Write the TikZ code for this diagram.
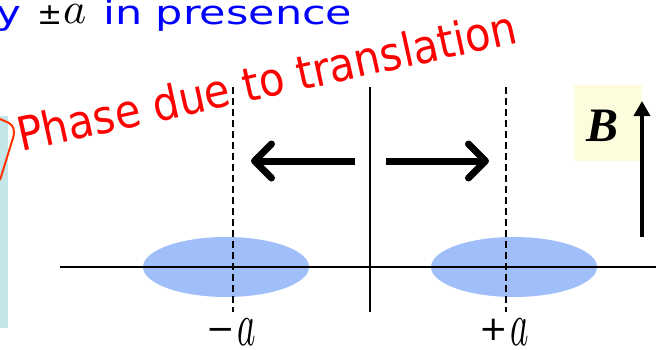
\documentclass[tikz,border=0pt]{standalone}
\usepackage{fontspec}
\setmainfont{DejaVu Sans}
\newfontfamily\condfont{DejaVu Sans Condensed}
\newfontfamily\timesfont{Liberation Serif}
\usetikzlibrary{arrows.meta,shapes.geometric}

\definecolor{cloudblue}{RGB}{160,191,250}
\definecolor{stripcyan}{RGB}{197,230,232}
\definecolor{calloutred}{RGB}{255,51,0}
\definecolor{fieldyellow}{RGB}{253,253,222}

\newcommand{\bigvar}[2]{\scalebox{#1}[#2]{\normalsize$a$}}

\begin{document}
\begin{tikzpicture}[
        x=1pt, y=-1pt,
        cloud/.style={
            ellipse,
            fill=cloudblue,
            minimum width=166pt,
            minimum height=60pt,
            inner sep=0pt
        },
        axisline/.style={line width=2pt},
        guide/.style={line width=1.6pt, dash pattern=on 7pt off 4pt},
        shiftarrow/.style={line width=7pt, -{Straight Barb[length=17pt, width=34pt, round]}},
        fieldarrow/.style={line width=4pt, -{Triangle[length=15pt, width=16pt]}},
        toptext/.style={inner sep=0pt, anchor=base west, font=\fontsize{33}{36}\selectfont},
        lab/.style={inner sep=0pt, anchor=base west, font=\fontsize{34}{34}\selectfont}
    ]
    \useasboundingbox (0,0) rectangle (663,350);
    \clip (0,0) rectangle (663,350);

    % cut-off pieces on the left
    \fill[stripcyan] (0,116) rectangle (8,328);
    \draw[calloutred, line width=2pt, line join=round] (0,119) -- (9,123) .. controls (14,126) and (15,131) .. (13,138) -- (0,180);

    % heading line, cut at the top
    \node[toptext, text=blue] (headY) at (-4,25) {\scalebox{1.27}[1]{y}};
    \node[toptext, font=\fontsize{30}{32}\selectfont] (headPM) at (37,25) {±};
    \node[toptext] (headA) at (63,24) {\bigvar{4.4}{4.4}};
    \node[toptext, text=blue] (headRest) at (103,25) {\scalebox{1.3}[1]{in presence}};

    \node[inner sep=0pt, anchor=base west, rotate=12.4, text=red, font=\condfont\fontsize{46.5}{50}\selectfont] (phase) at (21,152) {Phase due to translation};

    % orbits
    \node[cloud] (cloudL) at (226,267) {};
    \node[cloud] (cloudR) at (514,267) {};

    \coordinate (axisW) at (60,267);
    \coordinate (axisE) at (656,267);
    \coordinate (midTop) at (370,87);
    \coordinate (midBot) at (370,312);
    \coordinate (guideLTop) at (233,87);
    \coordinate (guideLBot) at (233,312);
    \coordinate (guideRTop) at (506,87);
    \coordinate (guideRBot) at (506,312);

    \draw[axisline] (axisW) -- (axisE);
    \draw[axisline] (midTop) -- (midBot);
    \draw[guide] (guideLTop) -- (guideLBot);
    \draw[guide] (guideRTop) -- (guideRBot);

    % translation arrows
    \coordinate (leftTail) at (355,161);
    \coordinate (leftTip) at (251,161);
    \coordinate (rightTail) at (386,161);
    \coordinate (rightTip) at (489,161);
    \draw[shiftarrow] (leftTail) -- (leftTip);
    \draw[shiftarrow] (rightTail) -- (rightTip);

    % field
    \node[fill=fieldyellow, minimum width=68pt, minimum height=76pt, inner sep=0pt] (fieldbox) at (608,123) {};
    \node[inner sep=0pt, font=\timesfont\bfseries\itshape\fontsize{48}{50}\selectfont] (fieldB) at (602.5,126) {B};
    \coordinate (fieldTail) at (642,237);
    \coordinate (fieldTip) at (642,101);
    \draw[fieldarrow] (fieldTail) -- (fieldTip);

    % positions
    \node[lab] (labMinus) at (206,345) {\raisebox{4.5pt}{−}\kern3pt\bigvar{3.5}{6.2}};
    \node[lab] (labPlus) at (479,345) {\raisebox{4.5pt}{+}\kern3pt\bigvar{3.5}{6.2}};
\end{tikzpicture}
\end{document}
